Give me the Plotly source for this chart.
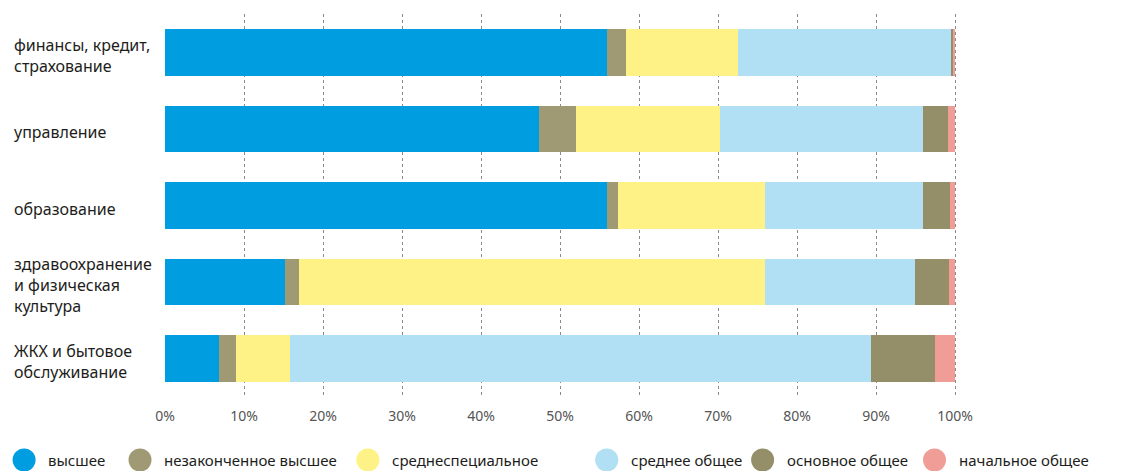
import plotly.graph_objects as go

categories = [
    "финансы, кредит,<br>страхование",
    "управление",
    "образование",
    "здравоохранение<br>и физическая<br>культура",
    "ЖКХ и бытовое<br>обслуживание",
]
series_names = ["высшее", "незаконченное высшее", "среднеспециальное",
                "среднее общее", "основное общее", "начальное общее"]
vysshee = [56.0, 47.3, 55.9, 15.2, 6.8]
nezak_vysshee = [2.4, 4.7, 1.5, 1.7, 2.2]
srednespec = [14.1, 18.3, 18.6, 59.1, 6.8]
srednee_obshee = [27.1, 25.7, 19.9, 18.9, 73.6]
osnovnoe_obshee = [0.1, 3.1, 3.4, 4.3, 8.0]
nachalnoe_obshee = [0.3, 0.9, 0.7, 0.8, 2.6]
tick_vals = [0, 10, 20, 30, 40, 50, 60, 70, 80, 90, 100]
tick_text = ["0%", "10%", "20%", "30%", "40%", "50%", "60%", "70%", "80%", "90%", "100%"]

series_values = [vysshee, nezak_vysshee, srednespec, srednee_obshee,
                 osnovnoe_obshee, nachalnoe_obshee]
colors = ["#009EE0", "#9F9A73", "#FEF286", "#B1DFF4", "#958F69", "#F09D97"]

FONT = "Noto Sans"
L, R, T, B = 165, 172.5, 14, 74
W = 1132 - L - R
H = 471 - T - B

fig = go.Figure()
for name, vals, col in zip(series_names, series_values, colors):
    fig.add_trace(go.Bar(
        y=categories, x=vals, name=name, orientation="h",
        marker=dict(color=col, line=dict(width=0)),
        width=0.61, showlegend=False,
    ))

# category labels, left aligned
annotations = []
for c in categories:
    annotations.append(dict(
        x=(12 - L) / W, xref="paper", y=c, yref="y", text=c,
        xanchor="left", yanchor="middle", align="left", showarrow=False,
        yshift=-3, font=dict(family=FONT, size=16, color="#1d1d1b"),
    ))

# legend with large circles
circle_px = [24, 140, 368, 607, 763, 935]
legend_y = -(460 - (T + H)) / H
shapes = []
for name, col, cx in zip(series_names, colors, circle_px):
    xp = (cx - L) / W
    shapes.append(dict(
        type="circle", xref="paper", yref="paper",
        xsizemode="pixel", ysizemode="pixel",
        xanchor=xp, yanchor=legend_y,
        x0=-11.5, x1=11.5, y0=-11.5, y1=11.5,
        fillcolor=col, line=dict(width=0),
    ))
    annotations.append(dict(
        x=xp, xref="paper", y=legend_y, yref="paper", text=name,
        xanchor="left", yanchor="middle", xshift=22, showarrow=False,
        font=dict(family=FONT, size=15, color="#1d1d1b"),
    ))

fig.update_layout(
    width=1132, height=471,
    margin=dict(l=L, r=R, t=T, b=B, pad=0),
    barmode="stack", bargap=0.39,
    plot_bgcolor="white", paper_bgcolor="white",
    font=dict(family=FONT),
    xaxis=dict(
        range=[0, 100.5], tickvals=tick_vals, ticktext=tick_text,
        showgrid=True, gridcolor="#8a8a8a", gridwidth=1, griddash="3px,3px",
        zeroline=False, showline=False,
        ticks="outside", ticklen=6, tickcolor="rgba(0,0,0,0)",
        tickfont=dict(family=FONT, size=14, color="#555555"),
    ),
    yaxis=dict(
        autorange="reversed", showticklabels=False, showgrid=False,
        zeroline=False, showline=False,
    ),
    shapes=shapes,
    annotations=annotations,
)

fig.write_html("out.html", config={"displayModeBar": False},
               post_script="document.body.style.margin='0px';document.body.style.overflow='hidden';")
